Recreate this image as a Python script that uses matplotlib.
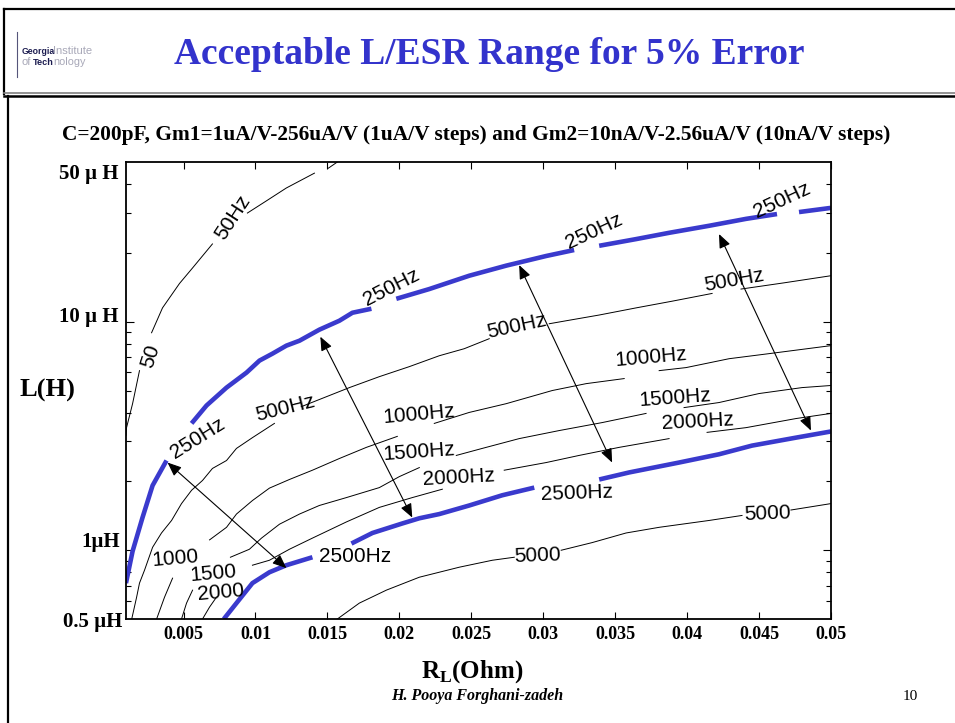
import matplotlib
matplotlib.use("Agg")
import matplotlib.pyplot as plt
import matplotlib.transforms as mtransforms
from matplotlib.lines import Line2D
from matplotlib.ticker import FixedLocator, NullFormatter

plt.rcParams.update({
    "font.family":      ["Liberation Serif", "DejaVu Serif"],
    "axes.linewidth":   1.3,
    "xtick.direction":  "in",
    "ytick.direction":  "in",
    "xtick.top":        True,
    "ytick.right":      True,
})

BLUE = "#3a3acd"
TITLE_BLUE = "#3333cc"
SANS = ["Liberation Sans", "DejaVu Sans"]

# ── contour pieces: R in Ohm, L in uH (one inner list per drawn piece) ──
f50_r = [[0.001, 0.00104, 0.00146, 0.00194],
         [0.00278, 0.00354, 0.00472, 0.00563, 0.00701],
         [0.00944, 0.01076, 0.01215, 0.01410],
         [0.01507, 0.01569]]
f50_l = [[3.18, 3.44, 4.38, 6.11],
         [8.95, 11.5, 14.7, 17.2, 21.9],
         [29.9, 33.8, 38.5, 44.7],
         [47.0, 50.0]]

f250_r = [[0.001, 0.00146, 0.00215, 0.00285, 0.00382],
          [0.00556, 0.00660, 0.00799, 0.00938, 0.01028, 0.01118, 0.01215,
           0.01306, 0.01444, 0.01583, 0.01674, 0.01806],
          [0.01979, 0.02208, 0.02486, 0.02743, 0.03021, 0.03215],
          [0.03389, 0.03646, 0.03875, 0.04153, 0.04410, 0.04625],
          [0.04778, 0.05]]
f250_l = [[0.718, 0.99, 1.39, 1.92, 2.47],
          [3.59, 4.30, 5.15, 5.99, 6.76, 7.25, 7.86, 8.26, 9.23, 10.1, 10.95, 11.4],
          [12.6, 13.9, 15.9, 17.6, 19.4, 20.6],
          [21.5, 23.0, 24.5, 26.3, 28.2, 29.6],
          [30.2, 31.5]]

f500_r = [[0.0014, 0.00174, 0.00194, 0.00229, 0.00285, 0.00347, 0.00417, 0.00486,
           0.00556, 0.00632, 0.00701, 0.00799, 0.00868, 0.00979, 0.01132],
          [0.01319, 0.01479, 0.01653, 0.01861, 0.02069, 0.02278, 0.02451, 0.02625],
          [0.03042, 0.03160, 0.03389, 0.03646, 0.03896, 0.04174],
          [0.04375, 0.04674, 0.05]]
f500_l = [[0.5, 0.623, 0.718, 0.818, 1.03, 1.19, 1.35, 1.60,
           1.83, 2.02, 2.28, 2.47, 2.79, 3.11, 3.59],
          [4.25, 4.66, 5.15, 5.75, 6.36, 7.10, 7.62, 8.43],
          [9.80, 10.1, 10.7, 11.5, 12.3, 13.3],
          [13.9, 14.8, 15.9]]

f1000_r = [[0.00313, 0.00368, 0.00424],
           [0.00681, 0.00799, 0.00868, 0.00979, 0.01097, 0.01236, 0.01396,
            0.01583, 0.01771, 0.01986],
           [0.02243, 0.02486, 0.02743, 0.03063, 0.03299, 0.03563],
           [0.03806, 0.03993, 0.04292, 0.04569, 0.05]]
f1000_l = [[0.5, 0.623, 0.755],
           [1.11, 1.26, 1.44, 1.65, 1.87, 2.04, 2.24, 2.52, 2.82, 3.15],
           [3.59, 4.01, 4.38, 5.00, 5.36, 5.64],
           [6.11, 6.30, 6.89, 7.25, 7.86]]

f1500_r = [[0.00486, 0.00521, 0.00563],
           [0.00826, 0.00958, 0.01042, 0.01167, 0.01306, 0.01444, 0.01632,
            0.01861, 0.02000, 0.02139],
           [0.02396, 0.02576, 0.02833, 0.03111, 0.03410, 0.03715],
           [0.03979, 0.04222, 0.04500, 0.04799, 0.05]]
f1500_l = [[0.5, 0.587, 0.669],
           [0.932, 1.01, 1.13, 1.30, 1.44, 1.57, 1.70, 1.88, 2.10, 2.30],
           [2.60, 2.79, 3.08, 3.34, 3.62, 3.97],
           [4.21, 4.43, 4.85, 5.15, 5.26]]

f2000_r = [[0.00632, 0.00681, 0.00729],
           [0.00979, 0.01097, 0.01236, 0.01396, 0.01632, 0.01861, 0.02090, 0.02299],
           [0.02729, 0.03021, 0.03250, 0.03528, 0.03875],
           [0.04139, 0.04410, 0.04757, 0.05]]
f2000_l = [[0.5, 0.564, 0.623],
           [0.860, 0.904, 1.01, 1.13, 1.33, 1.54, 1.70, 1.85],
           [2.24, 2.42, 2.60, 2.82, 3.08],
           [3.28, 3.44, 3.77, 3.97]]

f2500_r = [[0.0078, 0.00868, 0.00979, 0.01097, 0.01215, 0.01396],
           [0.01667, 0.01813, 0.02021, 0.02139, 0.02278, 0.02486, 0.02715, 0.02938],
           [0.03389, 0.03597, 0.03944, 0.04222, 0.04451, 0.04757, 0.05]]
f2500_l = [[0.5, 0.587, 0.718, 0.801, 0.860, 0.932],
           [1.07, 1.19, 1.31, 1.38, 1.44, 1.57, 1.74, 1.88],
           [2.04, 2.19, 2.42, 2.63, 2.87, 3.11, 3.31]]

f5000_r = [[0.01569, 0.01722, 0.01910, 0.02139, 0.02417, 0.02646, 0.02799],
           [0.03125, 0.03340, 0.03576, 0.03806, 0.04153, 0.04382],
           [0.04722, 0.05]]
f5000_l = [[0.5, 0.587, 0.669, 0.762, 0.843, 0.904, 0.932],
           [1.00, 1.08, 1.19, 1.26, 1.35, 1.42],
           [1.50, 1.60]]

# contour labels
lab_text = ["50", "50Hz", "250Hz", "250Hz", "250Hz", "250Hz",
            "500Hz", "500Hz", "500Hz", "1000Hz", "1000Hz", "1500Hz", "1500Hz",
            "2000Hz", "2000Hz", "2500Hz", "2500Hz", "5000", "5000",
            "1000", "1500", "2000"]
lab_r = [0.00271, 0.00840, 0.00597, 0.01944, 0.03354, 0.04660,
         0.01208, 0.02819, 0.04326, 0.02139, 0.03750, 0.02139, 0.03917,
         0.02410, 0.04076, 0.01694, 0.03236, 0.02958, 0.04556,
         0.00444, 0.00708, 0.00757]
lab_l = [7.10, 28.7, 3.08, 14.1, 25.0, 34.0,
         4.17, 9.51, 15.2, 3.93, 6.96, 2.68, 4.66,
         2.08, 3.66, 0.942, 1.77, 0.951, 1.45,
         0.923, 0.794, 0.656]
lab_rot = [72, 57, 32, 27, 25, 25,
           14, 12, 10, 5, 5, 4, 4,
           3, 3, 0, 2, 2, 2,
           5, 5, 5]

# double arrows between the two blue limits
arrow_r0 = [0.00389, 0.01451, 0.02833, 0.04222]
arrow_l0 = [2.42, 8.60, 17.7, 24.2]
arrow_r1 = [0.01215, 0.02090, 0.03479, 0.04861]
arrow_l1 = [0.835, 1.39, 2.42, 3.34]

xtick_vals = [0.005, 0.01, 0.015, 0.02, 0.025, 0.03, 0.035, 0.04, 0.045, 0.05]
xtick_text = ["0.005", "0.01", "0.015", "0.02", "0.025", "0.03", "0.035",
              "0.04", "0.045", "0.05"]
ytick_text = ["50 \u00b5 H", "10 \u00b5 H", "1\u00b5H", "0.5 \u00b5H"]
ytick_at = [42.1, 10.0, 1.03, 0.461]      # baseline of each label (uH)
ytick_right = [-0.011, -0.011, -0.0085, -0.0057]

fig = plt.figure(figsize=(9.55, 7.23), dpi=100)
ax = fig.add_axes([0.1319, 0.1438, 0.7382, 0.6321])

for rr, ll in [(f50_r, f50_l), (f500_r, f500_l), (f1000_r, f1000_l),
               (f1500_r, f1500_l), (f2000_r, f2000_l), (f5000_r, f5000_l)]:
    for r, l in zip(rr, ll):
        ax.plot(r, l, color="black", lw=0.7)

for rr, ll in [(f250_r, f250_l), (f2500_r, f2500_l)]:
    for r, l in zip(rr, ll):
        ax.plot(r, l, color=BLUE, lw=3.3, solid_capstyle="butt")

for t, r, l, rot in zip(lab_text, lab_r, lab_l, lab_rot):
    ax.text(r, l, t, rotation=rot, rotation_mode="anchor", ha="center",
            va="center", fontsize=15, family=SANS)

for r0, l0, r1, l1 in zip(arrow_r0, arrow_l0, arrow_r1, arrow_l1):
    ax.annotate("", xy=(r1, l1), xytext=(r0, l0),
                arrowprops=dict(arrowstyle="<|-|>,head_length=0.6,head_width=0.25",
                                color="black", lw=0.8, mutation_scale=14,
                                shrinkA=0, shrinkB=0))

ax.set_yscale("log")
ax.set_xlim(0.001, 0.05)
ax.set_ylim(0.5, 50)

ax.xaxis.set_major_locator(FixedLocator(xtick_vals))
ax.set_xticklabels(xtick_text, fontsize=13, fontweight="bold")
ax.tick_params(axis="x", which="major", length=5, width=0.8, pad=5)

ax.yaxis.set_major_locator(FixedLocator([1, 10]))
ax.yaxis.set_minor_locator(FixedLocator([0.6, 0.7, 0.8, 0.9, 2, 3, 4, 5, 6, 7, 8, 9,
                                         20, 30, 40]))
ax.yaxis.set_major_formatter(NullFormatter())
ax.yaxis.set_minor_formatter(NullFormatter())
ax.tick_params(axis="y", which="major", length=6, width=0.8)
ax.tick_params(axis="y", which="minor", length=3.5, width=0.8)

ytrans = mtransforms.blended_transform_factory(ax.transAxes, ax.transData)
for t, y, xr in zip(ytick_text, ytick_at, ytick_right):
    ax.text(xr, y, t, transform=ytrans, ha="right", va="baseline",
            fontsize=15, fontweight="bold")

# ── slide texts ───────────────────────────────────────────────
fig.text(0.050, 0.4606, "L(H)", ha="center", va="center", fontsize=19,
         fontweight="bold")
fig.text(0.494, 0.0622, r"R$_\mathregular{L}$(Ohm)", ha="center", va="baseline",
         fontsize=18, fontweight="bold")
fig.text(0.500, 0.032, "H. Pooya Forghani-zadeh", ha="center", va="baseline",
         fontsize=11.5, fontweight="bold", style="italic")
fig.text(0.953, 0.032, "10", ha="center", va="baseline", fontsize=11)

fig.text(0.499, 0.8064,
         "C=200pF, Gm1=1uA/V-256uA/V (1uA/V steps) and Gm2=10nA/V-2.56uA/V (10nA/V steps)",
         ha="center", va="baseline", fontsize=15.4, fontweight="bold")
fig.text(0.512, 0.9115, "Acceptable L/ESR Range for 5% Error", ha="center",
         va="baseline", fontsize=27, fontweight="bold", color=TITLE_BLUE)

# logo
fig.text(0.023, 0.925, "Georgia", fontsize=6.3, fontweight="bold", family=SANS,
         color="#1c1c50", va="baseline")
fig.text(0.055, 0.925, "Institute", fontsize=8, family=SANS, color="#a8a8b8",
         va="baseline")
fig.text(0.023, 0.910, "of", fontsize=8, family=SANS, color="#a8a8b8", va="baseline")
fig.text(0.0345, 0.910, "Tech", fontsize=6.6, fontweight="bold", family=SANS,
         color="#1c1c50", va="baseline")
fig.text(0.056, 0.910, "nology", fontsize=7.8, family=SANS, color="#a8a8b8",
         va="baseline")
fig.add_artist(Line2D([0.0178, 0.0178], [0.893, 0.956], transform=fig.transFigure,
                      color="#55557a", lw=0.8))

# slide frame
frame = dict(transform=fig.transFigure, color="black")
fig.add_artist(Line2D([0.0042, 1.0], [0.9876, 0.9876], lw=1.6, **frame))
fig.add_artist(Line2D([0.0045, 0.0045], [0.9876, 0.870], lw=1.6, **frame))
fig.add_artist(Line2D([0.0042, 1.0], [0.8715, 0.8715], lw=1.2,
                      transform=fig.transFigure, color="#808080"))
fig.add_artist(Line2D([0.0042, 1.0], [0.8670, 0.8670], lw=1.8, **frame))
fig.add_artist(Line2D([0.0087, 0.0087], [0.867, 0.0], lw=1.6, **frame))

fig.savefig("out.png", dpi=100)
